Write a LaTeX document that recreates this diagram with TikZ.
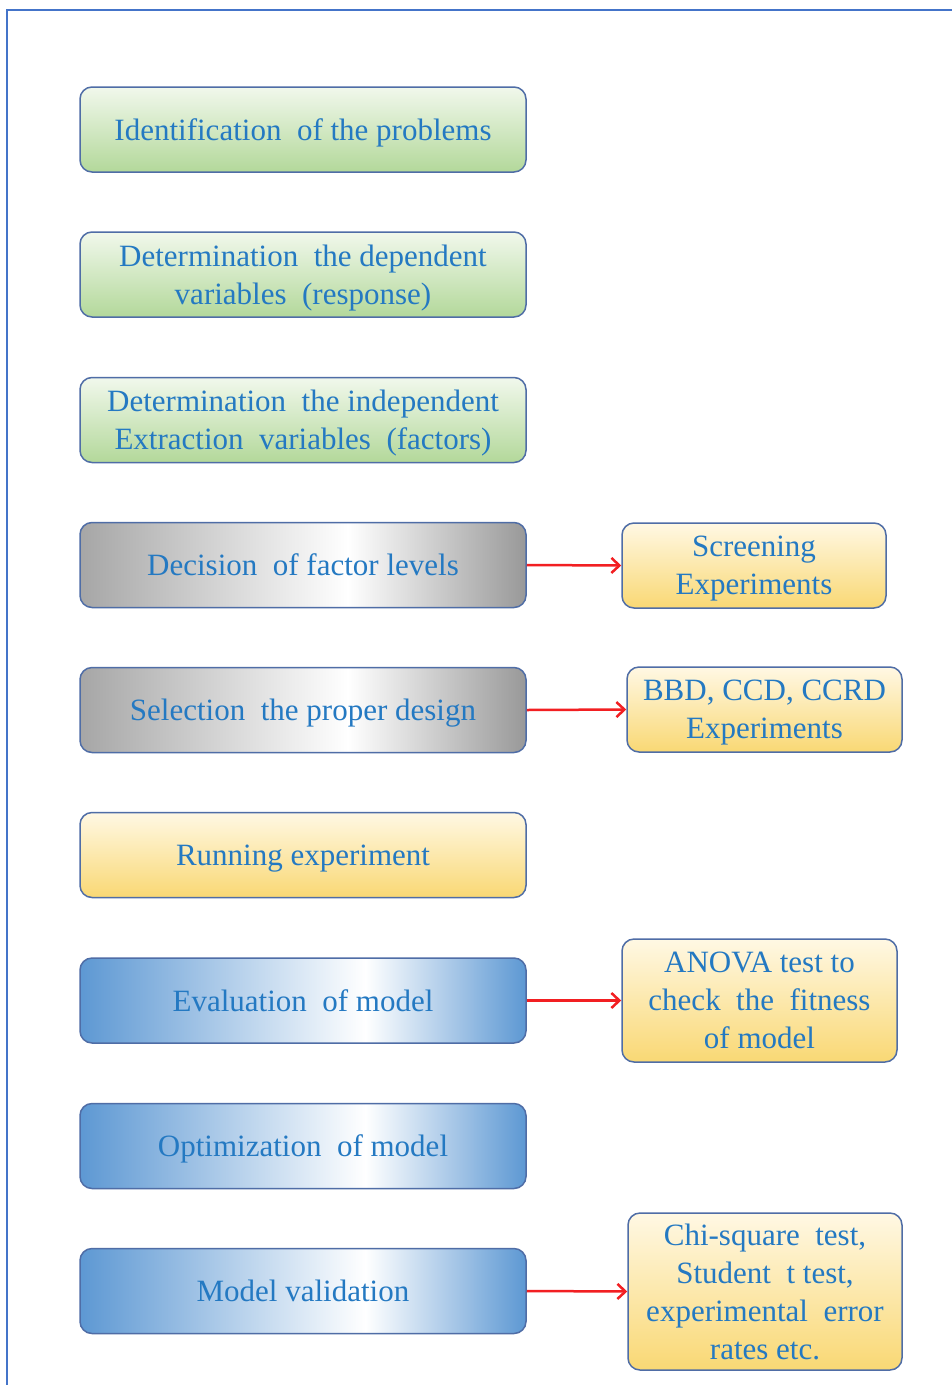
\documentclass[tikz,border=0pt]{standalone}
\usepackage{fontspec}
\setmainfont{Liberation Serif}
\usetikzlibrary{arrows.meta}

\definecolor{txtblue}{HTML}{2479C2}
\definecolor{edgeblue}{HTML}{4F6DA6}
\definecolor{frameblue}{HTML}{4474C9}
\definecolor{greenlo}{HTML}{B3D89A}
\definecolor{greenhi}{HTML}{F1F8EC}
\definecolor{greylo}{HTML}{A6A6A6}
\definecolor{yellowlo}{HTML}{F9D874}
\definecolor{yellowhi}{HTML}{FFF8E4}
\definecolor{bluelo}{HTML}{5D98D3}
\definecolor{arrowred}{HTML}{F21F22}

\pgfdeclarehorizontalshading{greyfade}{100bp}{%
  color(0bp)=(greylo); color(25bp)=(greylo); color(55bp)=(white);
  color(75bp)=(greylo!92!black); color(100bp)=(greylo!92!black)}
\pgfdeclarehorizontalshading{bluefade}{100bp}{%
  color(0bp)=(bluelo); color(25bp)=(bluelo); color(57bp)=(white);
  color(75bp)=(bluelo); color(100bp)=(bluelo)}

\tikzset{
  box/.style={draw=edgeblue, line width=1.5pt, rounded corners=12pt,
    align=center, text=txtblue, inner sep=2pt, text depth=0pt,
    font=\fontsize{31}{38}\selectfont},
  leftbox/.style={box, minimum width=446pt, minimum height=85pt},
  greenbox/.style={leftbox, top color=greenhi, bottom color=greenlo},
  greybox/.style={leftbox, shading=greyfade},
  bluebox/.style={leftbox, shading=bluefade},
  yellowbox/.style={box, top color=yellowhi, bottom color=yellowlo},
  link/.style={draw=arrowred, line width=2.5pt, -{Straight Barb[length=8pt,width=15pt,line width=2.5pt]}}
}

\begin{document}
\begin{tikzpicture}[x=1pt,y=-1pt]
\useasboundingbox (0,0) rectangle (952,1385);
\fill[white] (0,0) rectangle (952,1385);
% page frame
\draw[frameblue, line width=2pt] (7,1385) -- (7,10) -- (952,10);

% main sequence of steps
\node[greenbox] (n1) at (303,129.5) {Identification\ \ of the problems};
\node[greenbox] (n2) at (303,274.5) {Determination\ \ the dependent\\variables\ \ (response)};
\node[greenbox] (n3) at (303,420) {Determination\ \ the independent\\Extraction\ \ variables\ \ (factors)};
\node[greybox] (n4) at (303,565) {Decision\ \ of factor levels};
\node[greybox] (n5) at (303,710) {Selection\ \ the proper design};
\node[yellowbox, minimum width=446pt, minimum height=85pt] (n6) at (303,855) {Running experiment};
\node[bluebox] (n7) at (303,1000.5) {Evaluation\ \ of model};
\node[bluebox] (n8) at (303,1146) {Optimization\ \ of model};
\node[bluebox] (n9) at (303,1291) {Model validation};

% side notes
\node[yellowbox, minimum width=264pt, minimum height=85pt] (r4) at (754,565.5) {Screening\\Experiments};
\node[yellowbox, minimum width=275pt, minimum height=85pt] (r5) at (764.5,709.5) {BBD, CCD, CCRD\\Experiments};
\node[yellowbox, minimum width=275pt, minimum height=123pt] (r7) at (759.5,1000.5) {ANOVA test to\\check\ \ the\ \ fitness\\of model};
\node[yellowbox, minimum width=274pt, minimum height=157pt] (r9) at (765,1291.5) {Chi-square\ \ test,\\Student\ \ t test,\\experimental\ \ error\\rates etc.};

% connectors
\draw[link] (n4.east) -- (r4.west);
\draw[link] (n5.east) -- (r5.west);
\draw[link] (n7.east) -- (r7.west);
\draw[link] (n9.east) -- (r9.west);
\end{tikzpicture}
\end{document}
